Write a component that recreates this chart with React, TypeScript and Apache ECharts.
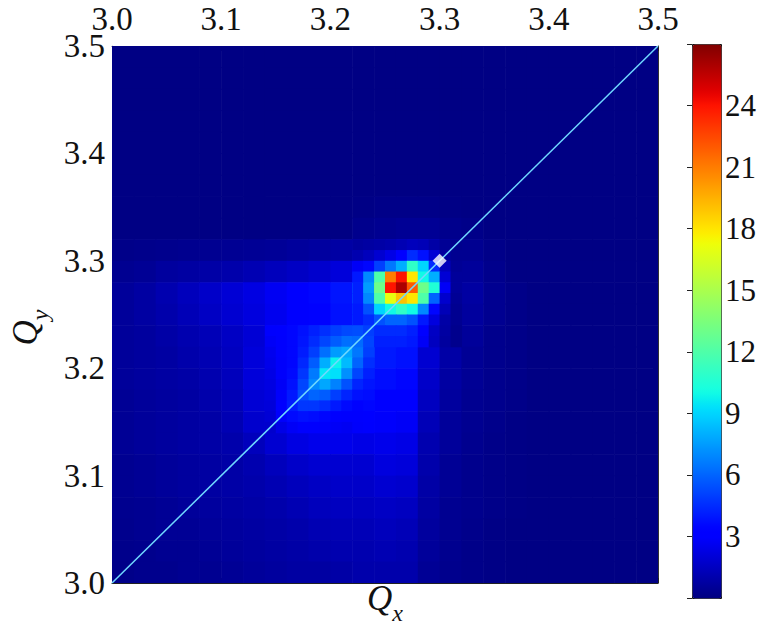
import React, { useEffect, useRef } from "react";
import * as echarts from "echarts";

// ---------- data ----------
const qAxisMin = 3.0;
const qAxisMax = 3.5;
const qAxisStep = 0.1;

const colorMin = 0;
const colorMax = 27;
const colorbarStep = 3;

// coarse grid over the whole plane: 0.02 wide cells (centres)
const coarseStep = 0.02;
const coarseX = [
  3.01, 3.03, 3.05, 3.07, 3.09, 3.11, 3.13, 3.15, 3.17, 3.19, 3.21, 3.23, 3.25,
  3.27, 3.29, 3.31, 3.33, 3.35, 3.37, 3.39, 3.41, 3.43, 3.45, 3.47, 3.49,
];
// row centres, top to bottom
const coarseY = [
  3.49, 3.47, 3.45, 3.43, 3.41, 3.39, 3.37, 3.35, 3.33, 3.31, 3.29, 3.27, 3.25,
  3.23, 3.21, 3.19, 3.17, 3.15, 3.13, 3.11, 3.09, 3.07, 3.05, 3.03, 3.01,
];
const coarseRows = [
  [0.1,0.1,0.1,0.1,0.1,0.1,0.1,0.1,0.1,0.1,0.1,0.1,0.1,0.1,0.1,0.1,0.1,0.1,0.1,0.1,0.1,0.1,0.1,0.1,0.1],
  [0.1,0.1,0.1,0.1,0.1,0.1,0.1,0.1,0.1,0.1,0.1,0.1,0.1,0.1,0.1,0.1,0.1,0.1,0.1,0.1,0.1,0.1,0.1,0.1,0.1],
  [0.1,0.1,0.1,0.1,0.1,0.1,0.1,0.1,0.1,0.1,0.1,0.1,0.1,0.1,0.1,0.1,0.1,0.1,0.1,0.1,0.1,0.1,0.1,0.1,0.1],
  [0.1,0.1,0.1,0.1,0.1,0.1,0.1,0.1,0.1,0.1,0.1,0.1,0.1,0.1,0.1,0.1,0.1,0.1,0.1,0.1,0.1,0.1,0.1,0.1,0.1],
  [0.1,0.1,0.1,0.1,0.1,0.1,0.1,0.1,0.1,0.1,0.1,0.1,0.1,0.1,0.1,0.1,0.1,0.1,0.1,0.1,0.1,0.1,0.1,0.1,0.1],
  [0.1,0.1,0.1,0.1,0.1,0.1,0.1,0.1,0.1,0.1,0.1,0.1,0.1,0.1,0.1,0.1,0.1,0.1,0.1,0.1,0.1,0.1,0.1,0.1,0.1],
  [0.1,0.1,0.1,0.1,0.1,0.1,0.1,0.1,0.1,0.1,0.1,0.1,0.1,0.1,0.1,0.1,0.1,0.1,0.1,0.1,0.1,0.1,0.1,0.1,0.1],
  [0.1,0.1,0.1,0.1,0.1,0.1,0.1,0.1,0.1,0.1,0.1,0.15,0.2,0.2,0.2,0.15,0.1,0.1,0.1,0.1,0.1,0.1,0.1,0.1,0.1],
  [0.1,0.1,0.1,0.1,0.1,0.1,0.1,0.1,0.1,0.1,0.1,0.3,0.4,0.5,0.5,0.3,0.2,0.1,0.1,0.1,0.1,0.1,0.1,0.1,0.1],
  [0.2,0.25,0.3,0.35,0.4,0.45,0.5,0.55,0.65,0.75,0.85,1.3,1.8,2.3,2.3,1.3,0.4,0.2,0.1,0.1,0.1,0.1,0.1,0.1,0.1],
  [0.4,0.5,0.7,0.8,0.9,1.0,1.2,1.4,1.6,1.8,2.1,3.0,5.0,8.0,6.0,2.8,0.6,0.3,0.1,0.1,0.1,0.1,0.1,0.1,0.1],
  [0.6,0.8,1.1,1.4,1.7,2.0,2.3,2.7,3.1,3.5,3.9,8.0,18,18,9.0,2.8,0.8,0.4,0.2,0.1,0.1,0.1,0.1,0.1,0.1],
  [0.6,0.8,1.0,1.3,1.6,1.9,2.2,2.6,3.0,3.4,3.8,6.0,11,12,6.0,1.8,0.7,0.4,0.2,0.1,0.1,0.1,0.1,0.1,0.1],
  [0.6,0.7,0.9,1.1,1.3,1.6,2.0,2.6,3.2,3.8,4.2,4.4,4.5,4.5,2.4,1.0,0.6,0.3,0.2,0.1,0.1,0.1,0.1,0.1,0.1],
  [0.6,0.7,0.8,1.0,1.2,1.5,2.1,2.8,3.8,5.5,7.0,5.0,4.0,3.8,1.9,0.9,0.5,0.3,0.2,0.1,0.1,0.1,0.1,0.1,0.1],
  [0.6,0.7,0.8,0.9,1.1,1.4,2.1,3.0,4.2,7.5,6.0,4.2,3.7,3.5,1.7,0.8,0.5,0.3,0.2,0.1,0.1,0.1,0.1,0.1,0.1],
  [0.5,0.6,0.7,0.8,1.0,1.3,2.0,3.0,4.5,4.5,3.8,3.4,3.3,3.2,1.5,0.7,0.4,0.3,0.2,0.1,0.1,0.1,0.1,0.1,0.1],
  [0.5,0.6,0.7,0.8,0.9,1.2,1.8,2.5,2.9,3.0,2.8,2.8,2.9,2.8,1.3,0.6,0.4,0.25,0.15,0.1,0.1,0.1,0.1,0.1,0.1],
  [0.5,0.6,0.7,0.8,0.9,1.0,1.4,1.9,2.3,2.5,2.5,2.4,2.5,2.4,1.1,0.6,0.35,0.2,0.15,0.1,0.1,0.1,0.1,0.1,0.1],
  [0.4,0.5,0.6,0.7,0.8,0.9,1.1,1.4,1.7,1.9,1.9,1.9,2.2,2.1,1.0,0.5,0.3,0.2,0.15,0.1,0.1,0.1,0.1,0.1,0.1],
  [0.4,0.5,0.6,0.7,0.8,0.9,1.0,1.2,1.4,1.6,1.7,1.7,1.9,1.8,0.9,0.5,0.3,0.2,0.15,0.1,0.1,0.1,0.1,0.1,0.1],
  [0.35,0.4,0.5,0.6,0.7,0.8,0.9,1.0,1.2,1.4,1.5,1.5,1.6,1.5,0.8,0.4,0.3,0.2,0.15,0.1,0.1,0.1,0.1,0.1,0.1],
  [0.3,0.4,0.5,0.5,0.6,0.7,0.8,0.9,1.0,1.2,1.3,1.3,1.4,1.3,0.7,0.4,0.25,0.15,0.1,0.1,0.1,0.1,0.1,0.1,0.1],
  [0.25,0.3,0.4,0.4,0.5,0.6,0.7,0.8,0.9,1.0,1.1,1.1,1.2,1.1,0.6,0.35,0.2,0.15,0.1,0.1,0.1,0.1,0.1,0.1,0.1],
  [0.2,0.3,0.3,0.4,0.4,0.5,0.6,0.7,0.8,0.8,0.9,1.0,1.0,1.0,0.5,0.3,0.2,0.15,0.1,0.1,0.1,0.1,0.1,0.1,0.1],
];

// finer patch over the diagonal blob: 0.01 wide cells (centres)
const fineStep = 0.01;
const blobX = [3.145, 3.155, 3.165, 3.175, 3.185, 3.195, 3.205, 3.215, 3.225, 3.235];
const blobY = [3.235, 3.225, 3.215, 3.205, 3.195, 3.185, 3.175, 3.165, 3.155, 3.145];
const blobRows = [
  [3.0, 3.2, 3.5, 3.8, 4.2, 4.6, 5.0, 5.3, 5.4, 5.0],
  [2.8, 3.1, 3.5, 3.9, 4.5, 5.2, 5.8, 6.3, 6.2, 5.2],
  [2.6, 3.0, 3.5, 4.1, 5.0, 6.3, 7.5, 7.8, 6.5, 5.0],
  [2.5, 2.9, 3.5, 4.4, 5.8, 8.0, 9.8, 8.3, 6.0, 4.6],
  [2.4, 2.9, 3.6, 4.8, 6.6, 9.5, 9.3, 7.2, 5.2, 4.2],
  [2.3, 2.8, 3.8, 5.2, 7.0, 7.8, 6.8, 5.5, 4.3, 3.9],
  [2.2, 2.9, 4.0, 5.4, 6.0, 5.8, 5.0, 4.3, 3.8, 3.7],
  [2.1, 3.0, 4.1, 4.8, 4.8, 4.5, 4.0, 3.6, 3.4, 3.5],
  [2.0, 2.9, 3.6, 3.8, 3.7, 3.5, 3.2, 3.0, 3.1, 3.3],
  [1.8, 2.4, 2.8, 3.0, 3.0, 2.9, 2.8, 2.7, 2.9, 3.1],
];

// finer patch over the core: 0.01 wide cells (centres)
const coreX = [3.225, 3.235, 3.245, 3.255, 3.265, 3.275, 3.285, 3.295, 3.305, 3.315];
const coreY = [3.315, 3.305, 3.295, 3.285, 3.275, 3.265, 3.255, 3.245, 3.235, 3.225];
const coreRows = [
  [0.7, 0.8, 0.9, 1.0, 1.2, 1.4, 1.3, 0.9, 0.5, 0.3],
  [1.1, 1.4, 1.9, 2.4, 3.2, 4.5, 3.8, 2.0, 0.7, 0.4],
  [2.8, 3.5, 5.0, 6.5, 8.0, 11, 9.0, 4.5, 1.4, 0.5],
  [4.0, 7.0, 12, 21, 24, 18, 10, 8.0, 2.0, 0.6],
  [4.2, 7.5, 13, 24, 26, 22, 13, 10.5, 2.8, 0.6],
  [4.2, 7.0, 12, 17, 19, 18, 12, 6.0, 1.8, 0.5],
  [4.0, 5.5, 9.0, 10, 11, 10, 7.0, 3.5, 1.3, 0.4],
  [4.0, 4.5, 5.5, 6.0, 6.0, 5.5, 4.0, 2.2, 0.9, 0.4],
  [5.4, 5.0, 4.5, 4.5, 4.5, 4.2, 3.2, 1.6, 0.8, 0.3],
  [6.2, 5.2, 4.2, 4.2, 4.2, 4.0, 2.8, 1.5, 0.7, 0.3],
];

const diagonal = [
  [3.0, 3.0],
  [3.5, 3.5],
];
const workingPoint = [[3.3, 3.3]];

// ---------- helpers ----------
function gridToData(xs: number[], ys: number[], rows: number[][]) {
  const out: number[][] = [];
  rows.forEach((row, r) => {
    row.forEach((v, c) => out.push([xs[c], ys[r], v]));
  });
  return out;
}

// matplotlib "jet" colormap
function jetChannel(t: number, pts: number[][]) {
  for (let i = 1; i < pts.length; i++) {
    if (t <= pts[i][0]) {
      const [x0, y0] = pts[i - 1];
      const [x1, y1] = pts[i];
      return y0 + ((t - x0) / (x1 - x0)) * (y1 - y0);
    }
  }
  return pts[pts.length - 1][1];
}
function jetColors(n: number) {
  const R = [[0, 0], [0.35, 0], [0.66, 1], [0.89, 1], [1, 0.5]];
  const G = [[0, 0], [0.125, 0], [0.375, 1], [0.64, 1], [0.91, 0], [1, 0]];
  const B = [[0, 0.5], [0.11, 1], [0.34, 1], [0.65, 0], [1, 0]];
  const cols: string[] = [];
  for (let i = 0; i < n; i++) {
    const t = i / (n - 1);
    const r = Math.round(255 * jetChannel(t, R));
    const g = Math.round(255 * jetChannel(t, G));
    const b = Math.round(255 * jetChannel(t, B));
    cols.push(`rgb(${r},${g},${b})`);
  }
  return cols;
}

const makeCellRenderer = (step: number) => (params: any, api: any) => {
  const x = api.value(0);
  const y = api.value(1);
  const p0 = api.coord([x - step / 2, y + step / 2]);
  const p1 = api.coord([x + step / 2, y - step / 2]);
  return {
    type: "rect",
    shape: { x: p0[0], y: p0[1], width: p1[0] - p0[0] + 0.6, height: p1[1] - p0[1] + 0.6 },
    style: { fill: api.visual("color") },
  };
};

const SERIF = "'Liberation Serif', 'DejaVu Serif', serif";

export default function App() {
  const ref = useRef<HTMLDivElement>(null);
  useEffect(() => {
    if (!ref.current) return;
    const chart = echarts.init(ref.current, null, { renderer: "svg" });

    const plot = { left: 110, top: 46, width: 548, height: 549 };
    const tickLabel = { fontFamily: SERIF, fontSize: 33, color: "#111" };
    const fmt = (v: number) => v.toFixed(1);
    const baseValueAxis = {
      type: "value",
      min: qAxisMin,
      max: qAxisMax,
      interval: qAxisStep,
      splitLine: { show: false },
      axisTick: { show: true, inside: true, length: 5, lineStyle: { color: "#222" } },
    };
    const nameRich = {
      q: {
        fontFamily: SERIF, fontStyle: "italic", fontSize: 35, lineHeight: 36,
        verticalAlign: "bottom", padding: [0, 0, 9, 0], color: "#111",
      },
      s: { fontFamily: SERIF, fontStyle: "italic", fontSize: 24, lineHeight: 26, verticalAlign: "bottom", color: "#111" },
    };

    const cellSeries = (step: number, data: number[][], z: number) => ({
      type: "custom",
      xAxisIndex: 0,
      yAxisIndex: 0,
      renderItem: makeCellRenderer(step),
      data,
      encode: { x: 0, y: 1 },
      clip: true,
      silent: true,
      z,
    });

    const option: any = {
      animation: false,
      backgroundColor: "#fff",
      grid: [
        { ...plot, containLabel: false },
        { left: 692, top: 44, width: 29, height: 554, containLabel: false },
      ],
      xAxis: [
        {
          ...baseValueAxis,
          gridIndex: 0,
          position: "top",
          axisLine: { show: true, lineStyle: { color: "#555", width: 1 } },
          axisLabel: { ...tickLabel, margin: 11, formatter: fmt, showMinLabel: true, showMaxLabel: true },
        },
        {
          ...baseValueAxis,
          gridIndex: 0,
          position: "bottom",
          axisLine: { show: true, lineStyle: { color: "#222", width: 1 } },
          axisLabel: { show: false },
          name: "{q|Q}{s|x}",
          nameLocation: "middle",
          nameGap: 6,
          nameTextStyle: { rich: nameRich },
        },
        { type: "value", gridIndex: 1, show: false, min: 0, max: 1 },
      ],
      yAxis: [
        {
          ...baseValueAxis,
          gridIndex: 0,
          position: "left",
          axisLine: { show: true, lineStyle: { color: "#bbb", width: 1, type: "dashed" } },
          axisLabel: { ...tickLabel, margin: 7, formatter: fmt, showMinLabel: true, showMaxLabel: true },
          name: "{q|Q}{s|y}",
          nameLocation: "middle",
          nameRotate: 90,
          nameGap: 60,
          nameTextStyle: { rich: nameRich, padding: [0, 26, 0, 0] },
        },
        {
          ...baseValueAxis,
          gridIndex: 0,
          position: "right",
          axisLine: { show: true, lineStyle: { color: "#333", width: 1 } },
          axisLabel: { show: false },
        },
        {
          type: "value",
          gridIndex: 1,
          position: "right",
          min: colorMin,
          max: colorMax,
          interval: colorbarStep,
          splitLine: { show: false },
          axisLine: { show: false },
          axisTick: { show: true, inside: true, length: 5, lineStyle: { color: "#222" } },
          axisLabel: {
            ...tickLabel,
            fontSize: 31,
            margin: 4,
            formatter: (v: number) => (v <= colorMin || v >= colorMax ? "" : String(v)),
          },
        },
      ],
      visualMap: {
        type: "continuous",
        min: colorMin,
        max: colorMax,
        dimension: 2,
        seriesIndex: [0, 1, 2],
        calculable: false,
        hoverLink: false,
        orient: "vertical",
        left: 692,
        top: 44,
        itemWidth: 29,
        itemHeight: 554,
        padding: 0,
        borderWidth: 1,
        borderColor: "#111",
        inRange: { color: jetColors(65) },
      },
      series: [
        cellSeries(coarseStep, gridToData(coarseX, coarseY, coarseRows), 1),
        cellSeries(fineStep, gridToData(blobX, blobY, blobRows), 2),
        cellSeries(fineStep, gridToData(coreX, coreY, coreRows), 3),
        {
          type: "line",
          xAxisIndex: 0,
          yAxisIndex: 0,
          data: diagonal,
          symbol: "none",
          lineStyle: { color: "#70d8ff", width: 1.5 },
          silent: true,
          z: 4,
        },
        {
          type: "scatter",
          xAxisIndex: 0,
          yAxisIndex: 0,
          data: workingPoint,
          symbol: "rect",
          symbolSize: 10,
          symbolRotate: 45,
          itemStyle: { color: "#ffffff" },
          silent: true,
          z: 5,
        },
      ],
    };
    chart.setOption(option);
    return () => chart.dispose();
  }, []);

  return (
    <div
      ref={ref}
      style={{ position: "fixed", left: 0, top: 0, width: 766, height: 630 }}
    />
  );
}
